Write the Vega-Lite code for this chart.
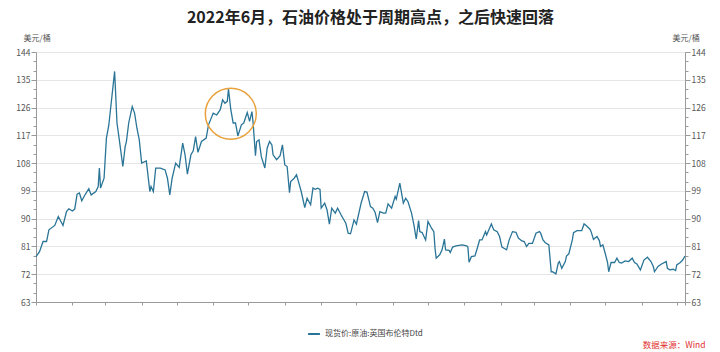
{
  "$schema": "https://vega.github.io/schema/vega-lite/v6.json",
  "autosize": {"type": "none"},
  "padding": {"left": 36, "top": 52, "right": 35, "bottom": 50},
  "width": 649,
  "height": 250,
  "background": "white",
  "config": {"view": {"stroke": null}, "font": "Noto Sans CJK SC"},
  "title": {
    "text": "2022年6月，石油价格处于周期高点，之后快速回落",
    "font": "Noto Sans CJK SC",
    "fontSize": 16,
    "fontWeight": "bold",
    "color": "#222222",
    "anchor": "middle",
    "frame": "group",
    "dx": 10,
    "offset": 8
  },
  "datasets": {
    "brent": [
      {"date":"2021-12-31","value":77.7},{"date":"2022-01-03","value":79.3},{"date":"2022-01-06","value":82.6},{"date":"2022-01-09","value":82.6},{"date":"2022-01-11","value":86.4},{"date":"2022-01-16","value":87.8},{"date":"2022-01-19","value":90.7},{"date":"2022-01-23","value":87.8},{"date":"2022-01-26","value":92.3},{"date":"2022-01-28","value":93.2},{"date":"2022-01-31","value":92.5},
      {"date":"2022-02-02","value":93.1},{"date":"2022-02-04","value":97.9},{"date":"2022-02-06","value":98.3},{"date":"2022-02-08","value":95.8},{"date":"2022-02-11","value":97.9},{"date":"2022-02-14","value":99.7},{"date":"2022-02-16","value":97.7},{"date":"2022-02-20","value":98.8},{"date":"2022-02-22","value":100.4},{"date":"2022-02-23","value":106.4},{"date":"2022-02-24","value":99.9},{"date":"2022-02-27","value":103.1},
      {"date":"2022-03-01","value":116.1},{"date":"2022-03-03","value":120.2},{"date":"2022-03-08","value":137.7},{"date":"2022-03-10","value":121},{"date":"2022-03-12","value":115.5},{"date":"2022-03-15","value":106.9},{"date":"2022-03-17","value":113.4},{"date":"2022-03-18","value":114.9},{"date":"2022-03-20","value":121},{"date":"2022-03-23","value":126.3},{"date":"2022-03-25","value":124.2},{"date":"2022-03-27","value":119.3},{"date":"2022-03-29","value":115.5},{"date":"2022-03-30","value":111.8},{"date":"2022-03-31","value":108},
      {"date":"2022-04-04","value":108.7},{"date":"2022-04-07","value":98.8},{"date":"2022-04-08","value":100.4},{"date":"2022-04-10","value":98.8},{"date":"2022-04-12","value":106.4},{"date":"2022-04-16","value":106.4},{"date":"2022-04-20","value":105.8},{"date":"2022-04-22","value":103.1},{"date":"2022-04-24","value":97.7},{"date":"2022-04-26","value":103.1},{"date":"2022-04-29","value":108},
      {"date":"2022-05-02","value":106.6},{"date":"2022-05-05","value":114.5},{"date":"2022-05-07","value":110.7},{"date":"2022-05-09","value":104.4},{"date":"2022-05-12","value":110.7},{"date":"2022-05-14","value":112},{"date":"2022-05-16","value":116.6},{"date":"2022-05-18","value":111.5},{"date":"2022-05-21","value":115},{"date":"2022-05-25","value":116.1},{"date":"2022-05-27","value":120.4},{"date":"2022-05-31","value":124.2},
      {"date":"2022-06-03","value":123.6},{"date":"2022-06-06","value":125.3},{"date":"2022-06-08","value":128.5},{"date":"2022-06-10","value":127.4},{"date":"2022-06-12","value":128},{"date":"2022-06-13","value":132},{"date":"2022-06-15","value":125.3},{"date":"2022-06-17","value":121},{"date":"2022-06-19","value":121},{"date":"2022-06-21","value":116.8},{"date":"2022-06-24","value":120.4},{"date":"2022-06-26","value":121},{"date":"2022-06-29","value":124.4},
      {"date":"2022-07-01","value":121.5},{"date":"2022-07-03","value":124.7},{"date":"2022-07-04","value":121},{"date":"2022-07-06","value":110.4},{"date":"2022-07-07","value":115},{"date":"2022-07-09","value":115.5},{"date":"2022-07-11","value":110.1},{"date":"2022-07-14","value":106.4},{"date":"2022-07-16","value":112.9},{"date":"2022-07-18","value":115},{"date":"2022-07-20","value":113.9},{"date":"2022-07-21","value":110.7},{"date":"2022-07-24","value":109.1},{"date":"2022-07-27","value":110.4},{"date":"2022-07-29","value":113.9},{"date":"2022-07-31","value":107.4},
      {"date":"2022-08-02","value":106.9},{"date":"2022-08-04","value":98.4},{"date":"2022-08-05","value":102},{"date":"2022-08-08","value":103.1},{"date":"2022-08-10","value":104.2},{"date":"2022-08-12","value":101.5},{"date":"2022-08-14","value":98.8},{"date":"2022-08-17","value":93.6},{"date":"2022-08-19","value":96.6},{"date":"2022-08-22","value":94.5},{"date":"2022-08-24","value":99.9},{"date":"2022-08-26","value":99.5},{"date":"2022-08-28","value":99.9},{"date":"2022-08-30","value":99.5},{"date":"2022-08-31","value":93.4},
      {"date":"2022-09-03","value":95},{"date":"2022-09-05","value":92.8},{"date":"2022-09-07","value":88.2},{"date":"2022-09-09","value":93.4},{"date":"2022-09-12","value":91.8},{"date":"2022-09-14","value":93.4},{"date":"2022-09-17","value":91.2},{"date":"2022-09-21","value":88.5},{"date":"2022-09-23","value":85.3},{"date":"2022-09-25","value":85.1},{"date":"2022-09-28","value":89.6},{"date":"2022-09-30","value":88.2},
      {"date":"2022-10-04","value":95},{"date":"2022-10-07","value":98.8},{"date":"2022-10-09","value":98.6},{"date":"2022-10-12","value":93.9},{"date":"2022-10-14","value":93.4},{"date":"2022-10-16","value":92},{"date":"2022-10-18","value":88.7},{"date":"2022-10-20","value":92.3},{"date":"2022-10-23","value":91.8},{"date":"2022-10-25","value":91.8},{"date":"2022-10-27","value":94.8},{"date":"2022-10-30","value":93.4},
      {"date":"2022-11-02","value":97.2},{"date":"2022-11-03","value":96.3},{"date":"2022-11-06","value":101.5},{"date":"2022-11-09","value":95},{"date":"2022-11-11","value":96.6},{"date":"2022-11-13","value":95.5},{"date":"2022-11-16","value":91.8},{"date":"2022-11-18","value":88},{"date":"2022-11-20","value":83.4},{"date":"2022-11-22","value":89.4},{"date":"2022-11-23","value":85.8},{"date":"2022-11-25","value":85.5},{"date":"2022-11-28","value":83.1},{"date":"2022-11-30","value":89.1},
      {"date":"2022-12-03","value":86.9},{"date":"2022-12-05","value":85.8},{"date":"2022-12-06","value":80.4},{"date":"2022-12-07","value":77.2},{"date":"2022-12-10","value":78.3},{"date":"2022-12-12","value":79.9},{"date":"2022-12-14","value":83.4},{"date":"2022-12-15","value":79.9},{"date":"2022-12-18","value":79.7},{"date":"2022-12-19","value":79},{"date":"2022-12-21","value":80.8},{"date":"2022-12-24","value":81.2},{"date":"2022-12-29","value":81.5},
      {"date":"2023-01-02","value":81.2},{"date":"2023-01-03","value":80.8},{"date":"2023-01-04","value":75.9},{"date":"2023-01-06","value":77.7},{"date":"2023-01-09","value":77.9},{"date":"2023-01-11","value":80.4},{"date":"2023-01-13","value":83.1},{"date":"2023-01-15","value":83.1},{"date":"2023-01-18","value":85.8},{"date":"2023-01-19","value":84.7},{"date":"2023-01-23","value":88.3},{"date":"2023-01-25","value":86.4},{"date":"2023-01-28","value":85.8},{"date":"2023-01-30","value":84.2},
      {"date":"2023-02-01","value":80.8},{"date":"2023-02-05","value":79.9},{"date":"2023-02-07","value":82.9},{"date":"2023-02-10","value":85.8},{"date":"2023-02-13","value":85.6},{"date":"2023-02-15","value":83.7},{"date":"2023-02-18","value":82.8},{"date":"2023-02-20","value":82.6},{"date":"2023-02-22","value":81},{"date":"2023-02-24","value":82},{"date":"2023-02-27","value":82},
      {"date":"2023-03-02","value":85.3},{"date":"2023-03-05","value":85.8},{"date":"2023-03-06","value":85.3},{"date":"2023-03-08","value":83.1},{"date":"2023-03-10","value":82.2},{"date":"2023-03-13","value":81.5},{"date":"2023-03-15","value":72.8},{"date":"2023-03-16","value":72.8},{"date":"2023-03-19","value":72.1},{"date":"2023-03-21","value":75.6},{"date":"2023-03-22","value":76.1},{"date":"2023-03-24","value":73.9},{"date":"2023-03-27","value":76.1},{"date":"2023-03-28","value":77.9},{"date":"2023-03-30","value":78.6},
      {"date":"2023-04-02","value":83.1},{"date":"2023-04-03","value":85.5},{"date":"2023-04-06","value":86.1},{"date":"2023-04-10","value":86.1},{"date":"2023-04-12","value":88.3},{"date":"2023-04-14","value":87.7},{"date":"2023-04-17","value":86.6},{"date":"2023-04-18","value":85.8},{"date":"2023-04-20","value":83.3},{"date":"2023-04-23","value":84.2},{"date":"2023-04-25","value":82.9},{"date":"2023-04-26","value":81},{"date":"2023-04-28","value":81.5},{"date":"2023-04-30","value":78.8},
      {"date":"2023-05-02","value":75.8},{"date":"2023-05-03","value":72.8},{"date":"2023-05-05","value":75.8},{"date":"2023-05-08","value":75.8},{"date":"2023-05-10","value":77.2},{"date":"2023-05-12","value":75.8},{"date":"2023-05-14","value":75.6},{"date":"2023-05-17","value":76.3},{"date":"2023-05-20","value":76.1},{"date":"2023-05-23","value":77.2},{"date":"2023-05-25","value":75.8},{"date":"2023-05-27","value":75.3},{"date":"2023-05-30","value":73.4},
      {"date":"2023-06-02","value":76.6},{"date":"2023-06-05","value":77.5},{"date":"2023-06-08","value":76.1},{"date":"2023-06-10","value":74.5},{"date":"2023-06-11","value":72.8},{"date":"2023-06-14","value":74.5},{"date":"2023-06-17","value":75.3},{"date":"2023-06-21","value":76.1},{"date":"2023-06-22","value":73.9},{"date":"2023-06-24","value":73.4},{"date":"2023-06-27","value":73.6},{"date":"2023-06-29","value":73.2},{"date":"2023-06-30","value":75},
      {"date":"2023-07-03","value":75.8},{"date":"2023-07-05","value":76.6},{"date":"2023-07-07","value":77.9}
    ],
    "highlight": [{"date": "2022-06-15", "value": 124.0}]
  },
  "encoding": {
    "x": {
      "field": "date",
      "type": "temporal",
      "scale": {
        "type": "utc",
        "domain": [
          {"year": 2021, "month": 12, "date": 31, "utc": true},
          {"year": 2023, "month": 7, "date": 7, "utc": true}
        ]
      },
      "axis": {
        "values": [
          {"year": 2021, "month": 12, "date": 31, "utc": true},
          {"year": 2022, "month": 1, "date": 31, "utc": true},
          {"year": 2022, "month": 2, "date": 28, "utc": true},
          {"year": 2022, "month": 3, "date": 31, "utc": true},
          {"year": 2022, "month": 4, "date": 30, "utc": true},
          {"year": 2022, "month": 5, "date": 31, "utc": true},
          {"year": 2022, "month": 6, "date": 30, "utc": true},
          {"year": 2022, "month": 7, "date": 31, "utc": true},
          {"year": 2022, "month": 8, "date": 31, "utc": true},
          {"year": 2022, "month": 9, "date": 30, "utc": true},
          {"year": 2022, "month": 10, "date": 31, "utc": true},
          {"year": 2022, "month": 11, "date": 30, "utc": true},
          {"year": 2022, "month": 12, "date": 31, "utc": true},
          {"year": 2023, "month": 1, "date": 31, "utc": true},
          {"year": 2023, "month": 2, "date": 28, "utc": true},
          {"year": 2023, "month": 3, "date": 31, "utc": true},
          {"year": 2023, "month": 4, "date": 30, "utc": true},
          {"year": 2023, "month": 5, "date": 31, "utc": true},
          {"year": 2023, "month": 6, "date": 30, "utc": true},
          {"year": 2023, "month": 7, "date": 7, "utc": true}
        ],
        "format": "%y-%m-%d",
        "formatType": "utc",
        "labelExpr": "indexof(['21-12-31','22-01-31','22-03-31','22-05-31','22-07-31','22-09-30','22-11-30','23-01-31','23-03-31','23-05-31','23-07-07'], datum.label) >= 0 ? datum.label : ''",
        "labelOverlap": false,
        "labelFlush": false,
        "labelFontSize": 8.5,
        "labelColor": "#555555",
        "labelPadding": 2,
        "tickSize": 3,
        "tickColor": "#9a9a9a",
        "domainColor": "#9a9a9a",
        "grid": false,
        "title": "数据来源：Wind",
        "titleColor": "#e0302e",
        "titleFontSize": 8.5,
        "titleFontWeight": "normal",
        "titleAlign": "right",
        "titleBaseline": "alphabetic",
        "titleX": 669,
        "titleY": 45
      }
    }
  },
  "layer": [
    {
      "data": {"name": "brent"},
      "mark": {"type": "line", "strokeWidth": 1.3},
      "encoding": {
        "y": {
          "field": "value",
          "type": "quantitative",
          "scale": {"domain": [63, 144], "nice": false, "zero": false},
          "axis": {
            "orient": "left",
            "values": [63,66,69,72,75,78,81,84,87,90,93,96,99,102,105,108,111,114,117,120,123,126,129,132,135,138,141,144],
            "labelExpr": "(datum.value - 63) % 9 === 0 ? datum.label : ''",
            "labelFontSize": 8.5,
            "labelColor": "#555555",
            "labelPadding": 1,
            "tickColor": "#9a9a9a",
            "tickSize": {"condition": {"test": "(datum.value - 63) % 9 === 0", "value": 5}, "value": 3},
            "domainColor": "#9a9a9a",
            "grid": true,
            "gridColor": "#e6e6e6",
            "gridOpacity": {"condition": {"test": "(datum.value - 63) % 9 === 0 && datum.value > 63", "value": 1}, "value": 0},
            "title": "美元/桶",
            "titleAngle": 0,
            "titleAlign": "left",
            "titleBaseline": "alphabetic",
            "titleX": -13,
            "titleY": -12,
            "titleFontSize": 8,
            "titleFontWeight": "normal",
            "titleColor": "#555555"
          }
        },
        "color": {
          "datum": "现货价:原油:英国布伦特Dtd",
          "scale": {"range": ["#2a7597"]},
          "legend": {
            "orient": "none",
            "legendX": 271,
            "legendY": 275,
            "title": null,
            "direction": "horizontal",
            "symbolType": "stroke",
            "symbolSize": 140,
            "symbolStrokeWidth": 2,
            "labelFontSize": 8,
            "labelColor": "#444444",
            "labelOffset": 4
          }
        }
      }
    },
    {
      "data": {"name": "brent"},
      "mark": {"type": "line", "strokeOpacity": 0},
      "encoding": {
        "y": {
          "field": "value",
          "type": "quantitative",
          "scale": {"domain": [63, 144], "nice": false, "zero": false},
          "axis": {
            "orient": "right",
            "values": [63,66,69,72,75,78,81,84,87,90,93,96,99,102,105,108,111,114,117,120,123,126,129,132,135,138,141,144],
            "labelExpr": "(datum.value - 63) % 9 === 0 ? datum.label : ''",
            "labelFontSize": 8.5,
            "labelColor": "#555555",
            "labelPadding": 1,
            "tickColor": "#9a9a9a",
            "tickSize": {"condition": {"test": "(datum.value - 63) % 9 === 0", "value": 5}, "value": 3},
            "domainColor": "#9a9a9a",
            "grid": false,
            "title": "美元/桶",
            "titleAngle": 0,
            "titleAlign": "left",
            "titleBaseline": "alphabetic",
            "titleX": -13,
            "titleY": -12,
            "titleFontSize": 8,
            "titleFontWeight": "normal",
            "titleColor": "#555555"
          }
        }
      }
    },
    {
      "data": {"name": "highlight"},
      "mark": {"type": "point", "shape": "circle", "filled": false, "size": 2600, "stroke": "#e9a13b", "strokeWidth": 1.5, "opacity": 1},
      "encoding": {
        "y": {
          "field": "value",
          "type": "quantitative",
          "scale": {"domain": [63, 144], "nice": false, "zero": false},
          "axis": null
        }
      }
    }
  ],
  "resolve": {"scale": {"y": "independent"}, "axis": {"y": "independent"}}
}
